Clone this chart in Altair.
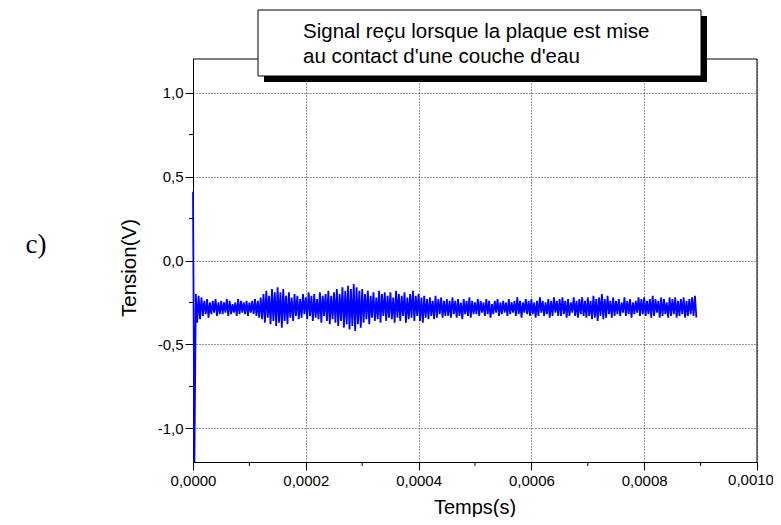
import altair as alt
import pandas as pd

# ---- data ----
sample_step = 0.000005  # s between envelope samples
upper = [
    0.41, -0.20, -0.21, -0.22, -0.24, -0.23, -0.25, -0.24, -0.23, -0.25,
    -0.24, -0.25, -0.23, -0.24, -0.26, -0.25, -0.23, -0.24, -0.25, -0.24,
    -0.25, -0.24, -0.23, -0.24, -0.22, -0.20, -0.18, -0.21, -0.17, -0.19,
    -0.16, -0.19, -0.17, -0.21, -0.19, -0.22, -0.20, -0.21, -0.23, -0.20,
    -0.22, -0.19, -0.21, -0.20, -0.23, -0.19, -0.21, -0.20, -0.18, -0.21,
    -0.19, -0.17, -0.20, -0.16, -0.18, -0.15, -0.17, -0.14, -0.16, -0.18,
    -0.17, -0.20, -0.18, -0.21, -0.19, -0.22, -0.18, -0.20, -0.19, -0.21,
    -0.19, -0.22, -0.18, -0.20, -0.21, -0.19, -0.22, -0.20, -0.18, -0.21,
    -0.20, -0.22, -0.21, -0.23, -0.22, -0.24, -0.21, -0.23, -0.22, -0.24,
    -0.23, -0.24, -0.22, -0.24, -0.23, -0.25, -0.23, -0.24, -0.22, -0.24,
    -0.25, -0.23, -0.24, -0.25, -0.23, -0.24, -0.26, -0.24, -0.23, -0.25,
    -0.24, -0.25, -0.23, -0.25, -0.24, -0.22, -0.24, -0.25, -0.23, -0.24,
    -0.23, -0.25, -0.24, -0.22, -0.24, -0.25, -0.23, -0.24, -0.22, -0.24,
    -0.23, -0.22, -0.24, -0.23, -0.25, -0.22, -0.24, -0.23, -0.22, -0.24,
    -0.22, -0.24, -0.21, -0.23, -0.22, -0.20, -0.23, -0.21, -0.24, -0.22,
    -0.24, -0.23, -0.25, -0.22, -0.24, -0.23, -0.25, -0.24, -0.22, -0.23,
    -0.22, -0.24, -0.23, -0.21, -0.23, -0.24, -0.22, -0.23, -0.25, -0.22,
    -0.23, -0.22, -0.24, -0.23, -0.22, -0.24, -0.23, -0.22, -0.21,
]
lower = [
    -1.20, -0.37, -0.35, -0.33, -0.32, -0.34, -0.32, -0.31, -0.33, -0.32,
    -0.32, -0.31, -0.33, -0.32, -0.31, -0.33, -0.32, -0.31, -0.32, -0.33,
    -0.31, -0.32, -0.33, -0.34, -0.35, -0.37, -0.34, -0.38, -0.36, -0.39,
    -0.37, -0.40, -0.36, -0.38, -0.34, -0.36, -0.33, -0.35, -0.34, -0.32,
    -0.35, -0.33, -0.36, -0.34, -0.35, -0.37, -0.33, -0.36, -0.38, -0.35,
    -0.37, -0.39, -0.36, -0.40, -0.38, -0.41, -0.39, -0.42, -0.38, -0.40,
    -0.37, -0.35, -0.38, -0.34, -0.36, -0.35, -0.37, -0.33, -0.36, -0.34,
    -0.35, -0.37, -0.34, -0.36, -0.33, -0.37, -0.35, -0.34, -0.36, -0.33,
    -0.36, -0.37, -0.34, -0.35, -0.33, -0.35, -0.34, -0.32, -0.34, -0.33,
    -0.33, -0.34, -0.32, -0.34, -0.33, -0.35, -0.32, -0.33, -0.34, -0.32,
    -0.32, -0.33, -0.31, -0.33, -0.32, -0.34, -0.32, -0.31, -0.33, -0.32,
    -0.31, -0.33, -0.32, -0.31, -0.33, -0.32, -0.34, -0.31, -0.32, -0.33,
    -0.32, -0.34, -0.33, -0.31, -0.33, -0.32, -0.34, -0.33, -0.31, -0.33,
    -0.33, -0.32, -0.34, -0.33, -0.31, -0.33, -0.34, -0.32, -0.33, -0.34,
    -0.33, -0.35, -0.34, -0.36, -0.33, -0.35, -0.34, -0.32, -0.34, -0.33,
    -0.32, -0.33, -0.31, -0.33, -0.32, -0.34, -0.32, -0.31, -0.33, -0.32,
    -0.33, -0.32, -0.34, -0.33, -0.31, -0.34, -0.33, -0.32, -0.34, -0.33,
    -0.32, -0.34, -0.33, -0.32, -0.34, -0.33, -0.32, -0.33, -0.34,
]
x_major_ticks = [0, 0.0002, 0.0004, 0.0006, 0.0008, 0.001]
x_minor_ticks = [0.0001, 0.0003, 0.0005, 0.0007, 0.0009]
y_major_ticks = [-1.0, -0.5, 0.0, 0.5, 1.0]
y_minor_ticks = [-0.75, -0.25, 0.25, 0.75]
x_domain = [0, 0.001]
y_domain = [-1.2, 1.2]
title_lines = ["Signal reçu lorsque la plaque est mise", "au contact d'une couche d'eau"]
x_title = "Temps(s)"
y_title = "Tension(V)"
panel_label = "c)"

# signal: alternate the upper and lower envelope samples
ts, vs = [], []
for i, (u, l) in enumerate(zip(upper, lower)):
    ts += [i * sample_step, i * sample_step + sample_step / 2]
    vs += [u, l]
signal = pd.DataFrame({"t": ts, "v": vs, "o": range(len(ts))})

W, H = 564, 403
FONT = "Liberation Sans"
LABEL_SIZE = 15

x_axis = alt.Axis(
    values=x_major_ticks, title=None,
    labelExpr="datum.value > 0.00095 ? '' : replace(format(datum.value, '.4f'), '.', ',')",
    tickSize=8, labelPadding=3, labelFlush=False, zindex=0,
)
y_axis = alt.Axis(
    values=y_major_ticks, title=None,
    labelExpr="(datum.value < 0 ? '-' : '') + replace(format(abs(datum.value), '.1f'), '.', ',')",
    tickSize=8, labelPadding=2, labelFlush=False, zindex=0,
)
x_scale = alt.Scale(domain=x_domain, nice=False, zero=False)
y_scale = alt.Scale(domain=y_domain, nice=False, zero=False)

line = alt.Chart(signal).mark_line(color="#0000ff", strokeWidth=1.8).encode(
    x=alt.X("t:Q", scale=x_scale, axis=x_axis),
    y=alt.Y("v:Q", scale=y_scale, axis=y_axis),
    order="o:Q",
)

minor_x = alt.Chart(pd.DataFrame({"t": x_minor_ticks})).mark_rule(color="black", strokeWidth=1).encode(
    x=alt.X("t:Q", scale=x_scale, axis=x_axis),
    y=alt.value(H), y2=alt.value(H + 4),
)
minor_y = alt.Chart(pd.DataFrame({"v": y_minor_ticks})).mark_rule(color="black", strokeWidth=1).encode(
    y=alt.Y("v:Q", scale=y_scale, axis=y_axis),
    x=alt.value(-4), x2=alt.value(0),
)

# last x label, nudged left so it stays inside the page
last_label = alt.Chart(pd.DataFrame({
    "t": [x_major_ticks[-1]],
    "label": [f"{x_major_ticks[-1]:.4f}".replace(".", ",")],
})).mark_text(font=FONT, fontSize=LABEL_SIZE, align="center", baseline="top",
              color="black", dx=-6).encode(
    x=alt.X("t:Q", scale=x_scale, axis=x_axis),
    y=alt.value(H + 11),
    text="label:N",
)

one = alt.Data(values=[{}])
frame_top = alt.Chart(one).mark_rule(color="black", strokeWidth=1).encode(
    x=alt.value(0), x2=alt.value(W), y=alt.value(0))
frame_right = alt.Chart(one).mark_rule(color="black", strokeWidth=1).encode(
    x=alt.value(W), y=alt.value(0), y2=alt.value(H))

shadow = alt.Chart(one).mark_rect(color="black").encode(
    x=alt.value(71), x2=alt.value(514), y=alt.value(-43), y2=alt.value(23))
box = alt.Chart(one).mark_rect(fill="white", stroke="black", strokeWidth=1).encode(
    x=alt.value(65), x2=alt.value(508), y=alt.value(-49), y2=alt.value(17))

t1 = alt.Chart(one).mark_text(text=title_lines[0], font=FONT, fontSize=20.5, align="left",
                               baseline="alphabetic", color="black").encode(
    x=alt.value(110), y=alt.value(-21.5))
t2 = alt.Chart(one).mark_text(text=title_lines[1], font=FONT, fontSize=20.5, align="left",
                               baseline="alphabetic", color="black").encode(
    x=alt.value(110), y=alt.value(3.5))
xt = alt.Chart(one).mark_text(text=x_title, font=FONT, fontSize=20, align="center",
                               baseline="middle", color="black").encode(
    x=alt.value(W / 2), y=alt.value(449))
yt = alt.Chart(one).mark_text(text=y_title, font=FONT, fontSize=20.5, align="center",
                               baseline="middle", angle=270, color="black").encode(
    x=alt.value(-63), y=alt.value(209))
pl = alt.Chart(one).mark_text(text=panel_label, font="Liberation Serif", fontSize=27,
                               align="center", baseline="middle", color="black").encode(
    x=alt.value(-157), y=alt.value(186))

chart = alt.layer(minor_x, minor_y, last_label, frame_top, frame_right, shadow, box,
                  t1, t2, xt, yt, pl, line).properties(
    width=W, height=H,
    autosize=alt.AutoSizeParams(type="none"),
    padding={"left": 185, "top": 51, "right": 16, "bottom": 55},
).configure_view(stroke=None).configure_axis(
    domainColor="black", domainWidth=1, tickColor="black", tickWidth=1,
    labelFont=FONT, labelFontSize=LABEL_SIZE, labelColor="black",
    gridColor="#333333", gridDash=[1, 2], gridWidth=1,
)

chart.save("out.html", embed_options={"renderer": "svg", "actions": False})
